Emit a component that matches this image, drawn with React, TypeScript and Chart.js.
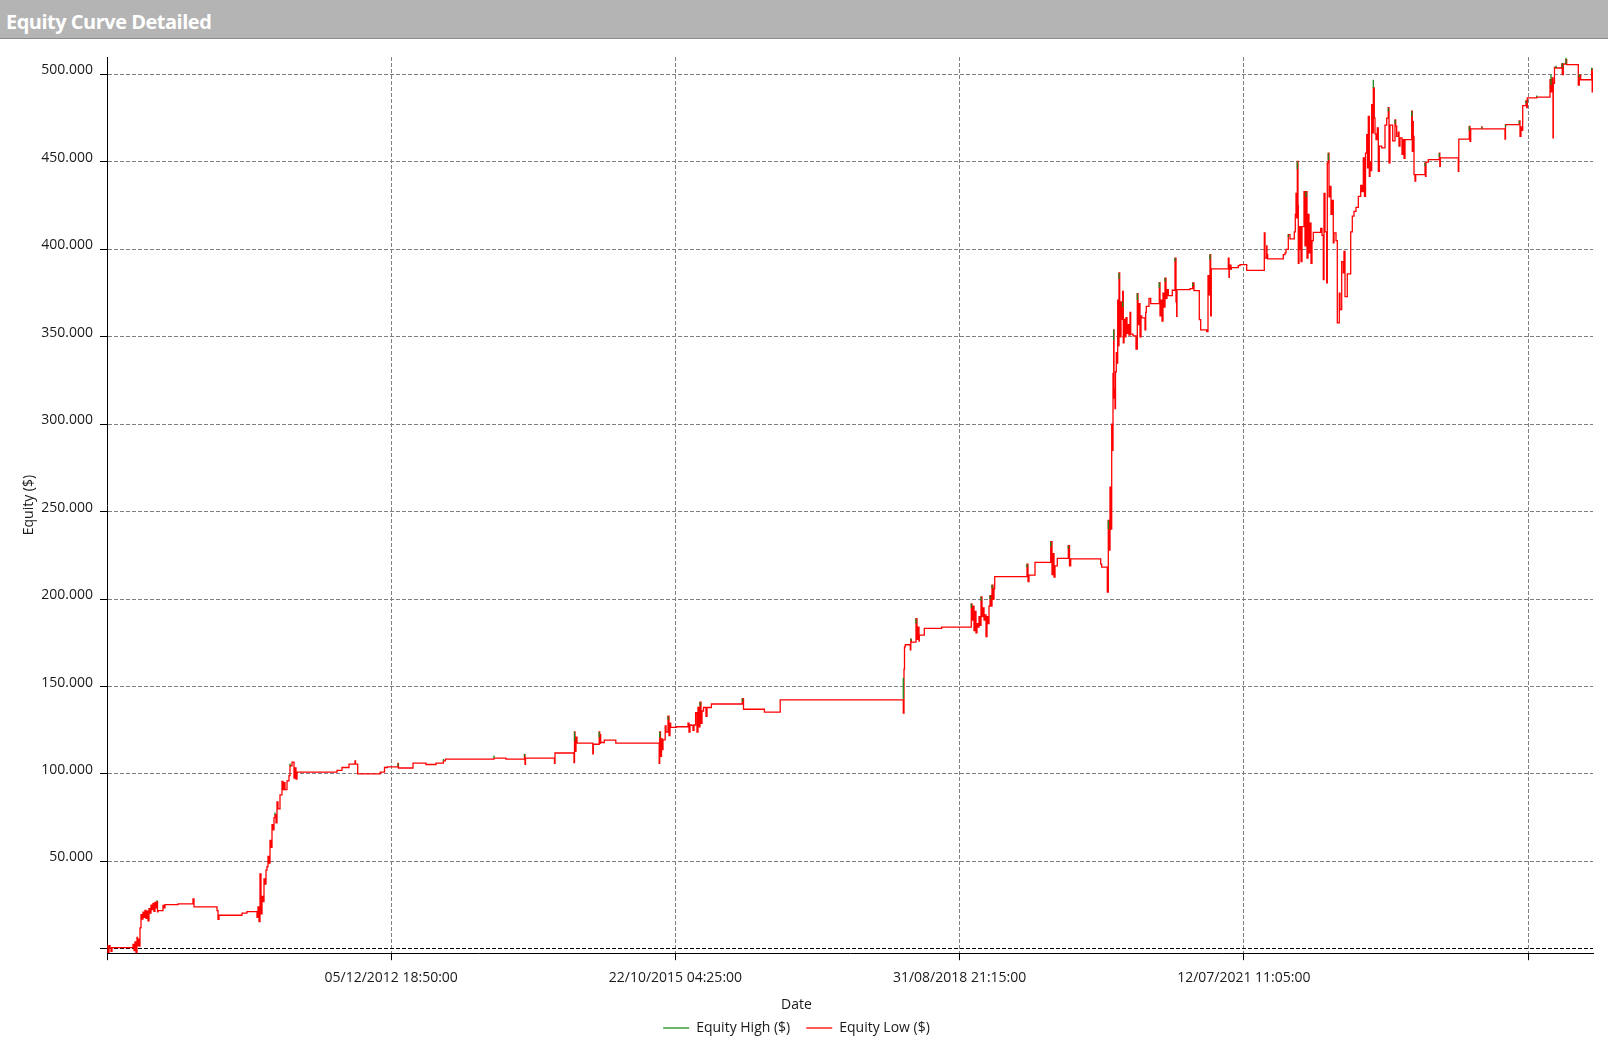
import React, { useEffect, useRef } from 'react';
import { Chart, registerables } from 'chart.js';

Chart.register(...registerables);

// X axis: bar index; tick labels are the dates printed at every 2842 bars
const xTickValues = [0, 2842, 5684, 8526, 11368, 14210];
const xTickLabels = ['', '05/12/2012 18:50:00', '22/10/2015 04:25:00', '31/08/2018 21:15:00', '12/07/2021 11:05:00', ''];
const xMax = 14860;

// Y axis
const yTickValues = [0, 50000, 100000, 150000, 200000, 250000, 300000, 350000, 400000, 450000, 500000];
const yMin = -2500;
const yMax = 510000;

// Equity Low ($): [bar, equity] — value after each change
const lowPhase1: [number, number][] = [
  [0, 1500], [10, -2000], [20, 1800], [30, 500], [40, -1500], [50, 700],
  [260, 2500], [270, -1000], [280, 4000], [290, -2200], [300, 6500], [305, 2000], [310, 5500], [320, 1500],
  [330, 12000], [340, 19500], [350, 17000], [360, 21000], [370, 18000], [380, 22000], [390, 17500],
  [400, 21500], [410, 16000], [420, 23000], [430, 20500], [440, 25000], [450, 22500], [460, 26000],
  [470, 21500], [480, 26500], [490, 23500], [500, 27000], [505, 21200], [510, 21900], [560, 24800],
  [570, 23500], [580, 25300], [710, 25700], [860, 28500], [870, 24000], [1100, 21900], [1110, 16800],
  [1120, 19200], [1350, 20400], [1400, 21300], [1500, 18000], [1510, 24000], [1520, 15600], [1530, 42900],
  [1540, 20000], [1550, 30000], [1560, 27000], [1570, 40000], [1580, 37000], [1590, 45000], [1600, 47000],
  [1610, 52800], [1620, 49000], [1630, 62000], [1640, 58000], [1650, 71000], [1660, 68000], [1670, 75000],
  [1680, 76700], [1690, 72000], [1700, 84000], [1710, 80000], [1730, 88000], [1750, 95700], [1760, 91000],
  [1770, 95000], [1780, 91000], [1800, 96000], [1820, 99000], [1830, 104700], [1850, 106800], [1870, 97600],
  [1880, 103400], [1890, 97000], [1900, 101000], [2300, 102000], [2350, 103700], [2420, 105600],
  [2480, 107500], [2485, 105600], [2507, 100000],
];

const lowPhase2: [number, number][] = [
  [2732, 101000], [2775, 103700], [2803, 104000], [2910, 106000], [2914, 103400], [3060, 106200],
  [3190, 105400], [3290, 106200], [3364, 107500], [3384, 108500], [3870, 109100], [3990, 108500],
  [4175, 111000], [4180, 105500], [4185, 109100], [4475, 106000], [4480, 112000], [4670, 106500],
  [4675, 124000], [4680, 113000], [4690, 121000], [4700, 117600], [4858, 111500], [4863, 117000],
  [4922, 124000], [4927, 117500], [4932, 122500], [4937, 118000], [4973, 119400], [5088, 117600],
  [5522, 106000], [5527, 124000], [5535, 110000], [5545, 120000], [5555, 114000], [5560, 119500],
  [5582, 127500], [5590, 124000], [5610, 133000], [5620, 122000], [5630, 129000], [5637, 126600],
  [5692, 127000], [5810, 129000], [5820, 124000], [5830, 128000], [5847, 127800], [5860, 125000],
  [5870, 128000], [5886, 135000], [5900, 124000], [5910, 138000], [5920, 127000], [5930, 141000],
  [5940, 129000], [5950, 136000], [5965, 138000], [5990, 133000], [6000, 138000], [6044, 140000],
  [6353, 143000], [6365, 137000], [6574, 135400], [6732, 142400],
];

const lowPhase3: [number, number][] = [
  [7963, 134800], [7970, 160000], [7975, 172700], [7983, 173900], [8033, 171000], [8038, 177000],
  [8043, 175400], [8090, 188800], [8100, 177000], [8110, 184000], [8120, 176000], [8123, 179400],
  [8173, 183200], [8347, 184000], [8643, 197300], [8650, 188000], [8660, 196000], [8670, 182000],
  [8680, 193000], [8690, 180700], [8700, 186000], [8710, 184000], [8720, 190000], [8730, 185000],
  [8740, 201200], [8750, 190000], [8760, 195000], [8770, 188000], [8780, 191000], [8790, 178600],
  [8800, 190000], [8810, 186000], [8820, 196000], [8830, 202000], [8840, 196000], [8850, 208000],
  [8860, 200000], [8870, 206000], [8877, 212800], [9200, 220000], [9210, 210000], [9220, 213700],
  [9280, 221000], [9437, 232800], [9450, 214000], [9460, 226000], [9470, 212600], [9480, 219000],
  [9503, 223300], [9613, 230500], [9625, 219000], [9637, 223000], [9937, 220000], [9947, 218300],
  [10003, 204000],
];

const lowPhase4: [number, number][] = [
  [10013, 245000], [10020, 228000], [10030, 264000], [10040, 240000], [10047, 300000], [10053, 285000],
  [10060, 329000], [10063, 315000], [10067, 354000], [10070, 320000], [10080, 309000], [10085, 330000],
  [10093, 341000], [10100, 335000], [10107, 371000], [10113, 345000], [10120, 386500], [10127, 365000],
  [10133, 350000], [10140, 370000], [10147, 360000], [10157, 376000], [10163, 346500], [10170, 360000],
  [10180, 350000], [10190, 361000], [10200, 352000], [10210, 357000], [10220, 351000], [10230, 364000],
  [10237, 351500], [10260, 350500], [10290, 343000], [10303, 374700], [10310, 357000], [10320, 369000],
  [10330, 350000], [10340, 362000], [10347, 360800], [10380, 354000], [10387, 364000], [10393, 367400],
  [10420, 372000], [10437, 369000], [10523, 381000], [10530, 362000], [10540, 371000], [10550, 359000],
  [10560, 375000], [10570, 367000], [10580, 383600], [10590, 372000], [10600, 377000], [10613, 373500],
  [10653, 376600], [10680, 395000], [10690, 370000], [10697, 361700], [10700, 377000], [10830, 377500],
  [10857, 380800], [10870, 376400], [10923, 359800], [10937, 354000], [10997, 353000], [11010, 385000],
  [11020, 374000], [11030, 397000], [11037, 362000], [11043, 388800], [11213, 395000], [11220, 384000],
  [11223, 388800], [11230, 391000], [11240, 388500], [11243, 389600], [11313, 390700], [11330, 391300],
  [11397, 388000],
];

const lowPhase5: [number, number][] = [
  [11573, 409400], [11580, 395000], [11597, 402000], [11600, 397000], [11607, 394500], [11763, 397000],
  [11780, 398000], [11790, 400000], [11813, 408400], [11830, 406000], [11873, 410000], [11883, 420000],
  [11890, 432000], [11897, 418000], [11903, 450300], [11910, 425000], [11913, 392000], [11920, 413000],
  [11930, 400000], [11935, 413000], [11940, 393000], [11950, 413000], [11970, 433000], [11980, 402000],
  [11990, 433000], [12000, 395000], [12010, 420000], [12020, 398000], [12030, 415000], [12040, 392000],
  [12050, 405000], [12063, 409700], [12137, 412000], [12150, 408000], [12163, 382700], [12170, 432000],
  [12180, 410000], [12197, 380800], [12203, 449400], [12213, 455000], [12220, 430000], [12230, 436000],
  [12240, 420000], [12250, 428000], [12263, 403700], [12270, 409400], [12290, 405000], [12303, 357900],
  [12323, 375000], [12330, 365600], [12347, 393000], [12363, 386500], [12370, 398800], [12380, 373000],
  [12403, 386000], [12437, 410000], [12453, 419000], [12470, 421700], [12490, 424000], [12513, 430300],
  [12537, 436600], [12550, 433000], [12563, 452300], [12575, 430300], [12585, 455000], [12597, 465600],
  [12605, 446600], [12613, 476000], [12623, 441800], [12630, 450000], [12640, 445000], [12647, 482700],
  [12655, 466600], [12663, 492300], [12673, 475000], [12680, 466000], [12690, 462800], [12703, 469500],
  [12713, 444600], [12723, 459000], [12747, 458000], [12780, 471000], [12797, 475000], [12813, 481000],
  [12820, 449400], [12830, 471000], [12857, 462000], [12880, 474000], [12887, 470500], [12897, 464600],
  [12913, 467000], [12920, 459000], [12930, 463700], [12950, 454300], [12963, 462800], [12970, 452000],
  [12980, 462800], [13047, 479000], [13053, 456000], [13058, 473000], [13063, 464600], [13070, 442700],
  [13080, 439000], [13087, 442700], [13180, 449400], [13185, 441800], [13190, 449900], [13213, 451300],
  [13323, 455000], [13328, 447500], [13333, 452300], [13513, 444600], [13518, 463000], [13623, 470300],
  [13630, 461800], [13637, 468900], [13747, 470000], [13750, 468900], [13980, 463000], [13985, 471300],
  [14123, 473400], [14130, 464600], [14140, 470000], [14147, 468000], [14157, 482200], [14190, 485000],
  [14197, 481000], [14203, 486600], [14297, 487100], [14430, 497000], [14440, 490000], [14450, 498000],
  [14460, 463700], [14463, 495000], [14475, 504000], [14490, 503700], [14547, 506000], [14553, 500000],
  [14563, 506000], [14590, 508500], [14597, 505600], [14713, 494000], [14723, 499500], [14737, 497000],
  [14847, 503400], [14852, 490000], [14857, 501000], [14860, 501000],
];

// Equity High ($): where the high of a bar exceeds the low — [bar, low, high]
const highTips: [number, number, number][] = [
  [500, 27000, 27800], [1680, 76700, 78000], [1830, 104700, 106000], [2910, 104500, 106000],
  [3364, 107500, 108500], [3870, 109100, 110500], [4175, 110000, 111500], [4675, 119000, 124000],
  [4922, 121000, 124000], [5527, 121000, 124000], [5610, 131000, 133000], [5930, 139000, 141000],
  [6353, 141500, 143000], [7963, 143000, 155000], [8038, 176000, 177500], [8090, 186000, 188800],
  [8643, 195000, 197300], [8740, 199000, 201200], [8830, 200000, 202000], [8850, 206000, 208000],
  [9200, 218000, 220000], [9437, 230000, 232800], [9613, 229000, 230500], [10013, 240000, 245000],
  [10067, 348000, 354000], [10120, 383000, 386500], [10157, 367000, 370000], [10303, 371000, 374700],
  [10523, 378000, 381000], [10580, 381500, 383600], [10680, 393000, 395000], [10857, 379000, 380800],
  [11030, 394000, 397000], [11813, 407000, 408400], [11903, 446000, 450300], [11990, 430000, 433000],
  [12213, 451000, 455000], [12663, 492300, 497000], [12813, 479000, 481000], [12880, 472000, 474000],
  [13047, 476000, 479000], [13180, 447500, 449400], [13323, 453000, 455000], [13623, 468000, 470300],
  [13747, 469000, 470000], [13985, 470000, 471300], [14123, 472000, 473400], [14190, 483500, 485000],
  [14297, 487100, 488000], [14440, 494000, 500000], [14490, 503700, 505000], [14553, 504000, 506500],
  [14590, 506000, 509500], [14723, 498500, 500000], [14847, 502500, 503800],
];

const FONT = '"Open Sans", "Noto Sans", sans-serif';
const TEXT = '#1a1a1a';

const fmtThousands = (v: number) =>
  v === 0 ? '' : String(Math.round(v)).replace(/\B(?=(\d{3})+(?!\d))/g, '.');

export default function App() {
  const canvasRef = useRef<HTMLCanvasElement | null>(null);

  useEffect(() => {
    document.body.style.margin = '0';
    const canvas = canvasRef.current;
    if (!canvas) return;

    const lowData = [...lowPhase1, ...lowPhase2, ...lowPhase3, ...lowPhase4, ...lowPhase5].map(([x, y]) => ({ x, y }));
    const highData: { x: number; y: number | null }[] = [];
    highTips.forEach(([x, lo, hi]) => {
      highData.push({ x, y: lo }, { x, y: hi }, { x, y: null });
    });

    const chart = new Chart(canvas, {
      type: 'line',
      data: {
        datasets: [
          {
            label: 'Equity High ($)',
            data: highData as any,
            borderColor: '#1d8a1d',
            backgroundColor: '#1d8a1d',
            borderWidth: 1.3,
            pointRadius: 0,
            spanGaps: false,
            tension: 0,
          },
          {
            label: 'Equity Low ($)',
            data: lowData,
            borderColor: '#ff0000',
            backgroundColor: '#ff0000',
            borderWidth: 1.3,
            pointRadius: 0,
            stepped: 'before',
            tension: 0,
          },
        ],
      },
      options: {
        animation: false,
        responsive: false,
        maintainAspectRatio: false,
        events: [],
        layout: { padding: { left: 0, right: 15, top: 57, bottom: -5 } },
        plugins: {
          tooltip: { enabled: false },
          legend: {
            position: 'bottom',
            labels: {
              usePointStyle: true,
              pointStyle: 'line',
              pointStyleWidth: 26,
              padding: 16,
              color: TEXT,
              font: { family: FONT, size: 14 },
            },
          },
          title: {
            display: true,
            text: 'Date',
            position: 'bottom',
            weight: 500,
            color: TEXT,
            font: { family: FONT, size: 14, weight: 'normal' },
            padding: { top: 4, bottom: -8 },
          },
        },
        scales: {
          x: {
            type: 'linear',
            min: 0,
            max: xMax,
            afterBuildTicks: (s: any) => {
              s.ticks = xTickValues.map((v) => ({ value: v }));
            },
            afterFit: (s: any) => {
              s.height = 39;
            },
            ticks: {
              autoSkip: false,
              maxRotation: 0,
              padding: 9,
              color: TEXT,
              font: { family: FONT, size: 14 },
              callback: (v: any) => {
                const i = xTickValues.indexOf(Number(v));
                return i >= 0 ? xTickLabels[i] : '';
              },
            },
            grid: { color: '#808080', lineWidth: 1, tickColor: '#000', tickLength: 7 },
            border: { display: true, color: '#000', width: 1, dash: [4, 2] },
          },
          y: {
            type: 'linear',
            min: yMin,
            max: yMax,
            afterBuildTicks: (s: any) => {
              s.ticks = yTickValues.map((v) => ({ value: v }));
            },
            afterFit: (s: any) => {
              s.width = 107;
            },
            ticks: {
              padding: 7,
              labelOffset: -4,
              color: TEXT,
              font: { family: FONT, size: 14 },
              callback: (v: any) => fmtThousands(Number(v)),
            },
            title: {
              display: true,
              text: 'Equity ($)',
              color: TEXT,
              font: { family: FONT, size: 14 },
              padding: { top: 21, bottom: 0 },
            },
            grid: {
              color: (ctx: any) => (ctx.tick && ctx.tick.value === 0 ? '#000' : '#808080'),
              lineWidth: 1,
              tickColor: '#000',
              tickLength: 7,
            },
            border: { display: true, color: '#000', width: 1, dash: [4, 2] },
          },
        },
      },
    });

    return () => chart.destroy();
  }, []);

  return (
    <div style={{ position: 'relative', width: 1608, height: 1040, background: '#fff', overflow: 'hidden' }}>
      <canvas ref={canvasRef} width={1608} height={1040} style={{ position: 'absolute', left: 0, top: 0, display: 'block' }} />
      <div
        style={{
          position: 'absolute',
          left: 0,
          top: 0,
          width: 1608,
          height: 38,
          background: '#b4b4b4',
          borderBottom: '1px solid #8c8c8c',
        }}
      >
        <span
          style={{
            position: 'absolute',
            left: 6,
            top: 8,
            fontFamily: FONT,
            fontWeight: 700,
            fontSize: 20,
            letterSpacing: '-0.5px',
            lineHeight: '28px',
            color: '#ffffff',
            whiteSpace: 'nowrap',
          }}
        >
          Equity Curve Detailed
        </span>
      </div>
    </div>
  );
}
